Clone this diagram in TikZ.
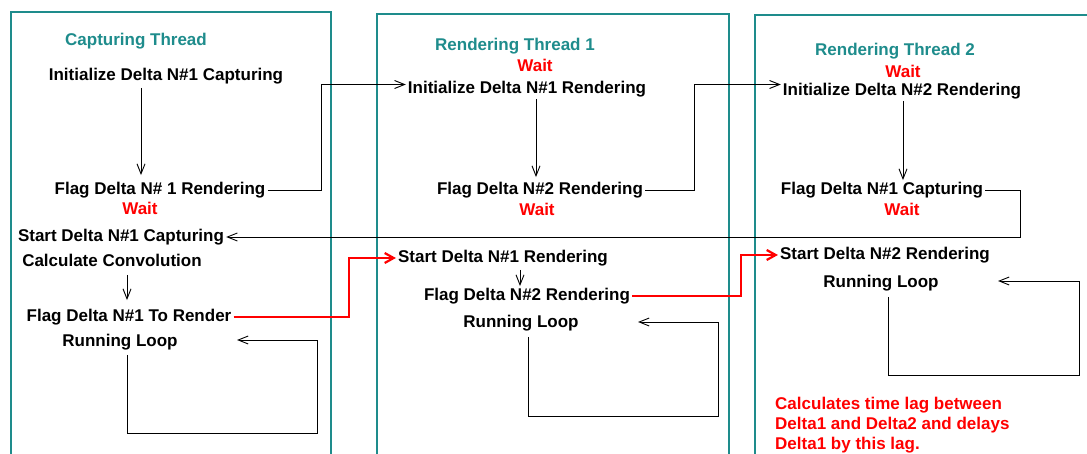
\documentclass[tikz,border=0pt]{standalone}
\usepackage{fontspec}
\setmainfont{Liberation Sans}
\usetikzlibrary{arrows.meta}
\definecolor{tealc}{RGB}{30,140,140}
\definecolor{redc}{RGB}{255,0,0}
\begin{document}
\begin{tikzpicture}[x=1pt,y=-1pt,
  txt/.style={font=\bfseries\fontsize{17}{20}\selectfont, inner sep=2pt, text height=12pt, text depth=3.5pt},
  ttl/.style={txt, text=tealc},
  waitlbl/.style={txt, text=redc},
  frame/.style={draw=tealc, line width=2pt},
  arr/.style={draw=black, line width=0.9pt, -{Straight Barb[length=10pt,width=8pt]}},
  redarr/.style={draw=redc, line width=2.2pt, -{Straight Barb[length=9pt,width=10pt]}},
]
\useasboundingbox (0,0) rectangle (1087,454);
\clip (0,0) rectangle (1087,454);
\fill[white] (0,0) rectangle (1087,454);

% thread frames
\draw[frame] (11,460) -- (11,12) -- (331,12) -- (331,460);
\draw[frame] (377,460) -- (377,14) -- (729,14) -- (729,460);
\draw[frame] (755,460) -- (755,15) -- (1092,15);

% titles
\node[ttl] (t1) at (136,41) {Capturing Thread};
\node[ttl] (t2) at (515,46) {Rendering Thread 1};
\node[ttl] (t3) at (895,51) {Rendering Thread 2};

% capturing thread
\node[txt] (i1) at (166,76) {Initialize Delta N\#1 Capturing};
\node[txt] (f1) at (160,190) {Flag Delta N\# 1 Rendering};
\node[waitlbl] (w1) at (140,210) {Wait};
\node[txt] (sc1) at (121,237) {Start Delta N\#1 Capturing};
\node[txt] (cc1) at (112,262) {Calculate Convolution};
\node[txt] (fr1) at (129,317) {Flag Delta N\#1 To Render};
\node[txt] (rl1) at (120,342) {Running Loop};

% rendering thread 1
\node[waitlbl] (w2a) at (535,67) {Wait};
\node[txt] (i2) at (527,89) {Initialize Delta N\#1 Rendering};
\node[txt] (f2) at (540,190) {Flag Delta N\#2 Rendering};
\node[waitlbl] (w2b) at (537,211) {Wait};
\node[txt] (sr2) at (503,258) {Start Delta N\#1 Rendering};
\node[txt] (fr2) at (527,296) {Flag Delta N\#2 Rendering};
\node[txt] (rl2) at (521,323) {Running Loop};

% rendering thread 2
\node[waitlbl] (w3a) at (903,73) {Wait};
\node[txt] (i3) at (902,91) {Initialize Delta N\#2 Rendering};
\node[txt] (fc3) at (882,190) {Flag Delta N\#1 Capturing};
\node[waitlbl] (w3b) at (902,211) {Wait};
\node[txt] (sr3) at (885,255) {Start Delta N\#2 Rendering};
\node[txt] (rl3) at (881,283) {Running Loop};
\node[font=\bfseries\fontsize{17}{20}\selectfont, inner sep=2pt, text=redc, align=left, anchor=north west] (note) at (773,395)
  {Calculates time lag between\\Delta1 and Delta2 and delays\\Delta1 by this lag.};

% helper coordinates
\coordinate (vx1) at (141,0);
\coordinate (vx2) at (127,0);
\coordinate (vx3) at (536,0);
\coordinate (vx4) at (520,0);
\coordinate (vx5) at (903,0);
\coordinate (bx1) at (321,0);
\coordinate (bx2) at (694,0);
\coordinate (bx3) at (1020,0);
\coordinate (bx4) at (349,0);
\coordinate (bx5) at (741,0);
\coordinate (i2in) at ([yshift=4.5pt]i2.west);
\coordinate (i3in) at ([yshift=6.5pt]i3.west);
\coordinate (lx1) at (127,0);
\coordinate (lx2) at (528,0);
\coordinate (lx3) at (888,0);
\coordinate (lc1) at (317,433);
\coordinate (le1) at (237,340);
\coordinate (lc2) at (718,416);
\coordinate (le2) at (638,322);
\coordinate (lc3) at (1079,375);
\coordinate (le3) at (998,281);

% vertical step arrows
\draw[arr, shorten <=2pt, shorten >=5pt] (i1.south -| vx1) -- (f1.north -| vx1);
\draw[arr, shorten <=3pt, shorten >=7pt] (cc1.south -| vx2) -- (fr1.north -| vx2);
\draw[arr, shorten >=3pt] (i2.south -| vx3) -- (f2.north -| vx3);
\draw[arr, shorten <=2pt] (sr2.south -| vx4) -- (fr2.north -| vx4);
\draw[arr] (i3.south -| vx5) -- (fc3.north -| vx5);

% cross-thread connectors
\draw[arr] (f1.east) -| (bx1 |- i2in) -- (i2in);
\draw[arr] (f2.east) -| (bx2 |- i3in) -- (i3in);
\draw[arr] (fc3.east) -| (bx3 |- sc1.east) -- (sc1.east);
\draw[redarr] (fr1.east) -| (bx4 |- sr2.west) -- (sr2.west);
\draw[redarr] (fr2.east) -| (bx5 |- sr3.west) -- (sr3.west);

% running loops
\draw[arr, shorten <=3pt] (rl1.south -| lx1) |- (lc1) |- (le1);
\draw[arr, shorten <=4pt] (rl2.south -| lx2) |- (lc2) |- (le2);
\draw[arr, shorten <=4pt] (rl3.south -| lx3) |- (lc3) |- (le3);
\end{tikzpicture}
\end{document}
